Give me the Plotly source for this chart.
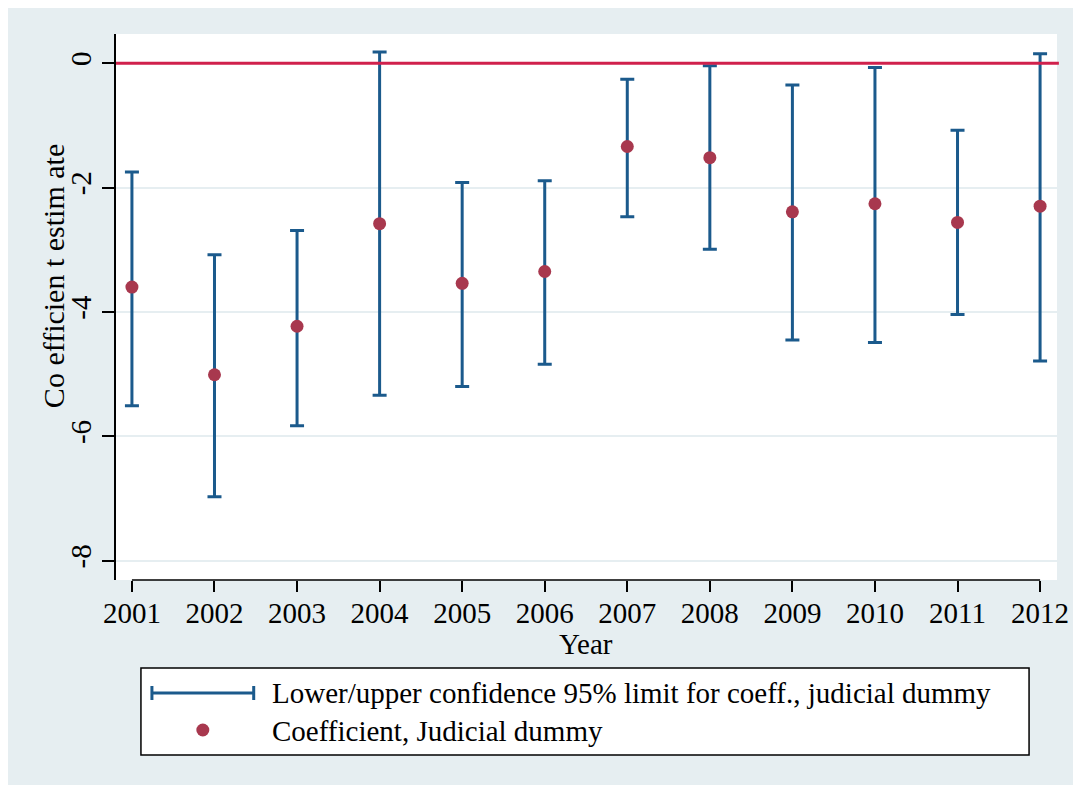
import plotly.graph_objects as go

years = [2001, 2002, 2003, 2004, 2005, 2006, 2007, 2008, 2009, 2010, 2011, 2012]
coef = [-3.60, -5.01, -4.23, -2.58, -3.54, -3.35, -1.34, -1.52, -2.39, -2.26, -2.56, -2.30]
upper = [-1.75, -3.08, -2.69, 0.18, -1.92, -1.89, -0.26, -0.04, -0.35, -0.07, -1.08, 0.15]
lower = [-5.51, -6.97, -5.83, -5.34, -5.20, -4.84, -2.47, -2.99, -4.45, -4.49, -4.04, -4.79]
yticks = [0, -2, -4, -6, -8]
ci_label = "Lower/upper confidence 95% limit for coeff., judicial dummy"
pt_label = "Coefficient, Judicial dummy"
x_title = "Year"
y_title = "Co efficien t estim ate"

NAVY = "#1B5A8C"
MAROON = "#A8384E"
RED = "#D0214C"
BG = "#E6EEF1"
GRID = "#E6EEF1"
FONT = "Liberation Serif"

OFF = 8  # page offset of the figure (body margin)
FW, FH = 1081 - OFF, 785 - OFF
# plot area in page pixels
PL, PT, PR, PB = 116, 34, 1059, 580
L, T, R, B = PL - OFF, PT - OFF, PR - OFF, PB - OFF
W, H = R - L, B - T


def px(x):
    return (x - PL) / W


def py(y):
    return (PB - y) / H


fig = go.Figure()

fig.add_trace(go.Scatter(
    x=years, y=coef, mode="markers",
    marker=dict(size=1, color="rgba(0,0,0,0)"),
    error_y=dict(type="data", symmetric=False,
                 array=[u - c for u, c in zip(upper, coef)],
                 arrayminus=[c - l for c, l in zip(coef, lower)],
                 color=NAVY, thickness=3, width=7),
    showlegend=False, hoverinfo="skip", name=ci_label))

fig.add_trace(go.Scatter(
    x=years, y=coef, mode="markers",
    marker=dict(size=13, color=MAROON),
    showlegend=False, name=pt_label))

shapes = []
shapes.append(dict(type="line", xref="paper", yref="y", x0=0, x1=1.002, y0=0, y1=0,
                   line=dict(color=RED, width=3), layer="above"))
shapes.append(dict(type="line", xref="x", yref="paper", x0=years[0], x1=years[-1], y0=0, y1=0,
                   line=dict(color="black", width=1.5), layer="above"))
# legend box
shapes.append(dict(type="rect", xref="paper", yref="paper", x0=px(141), x1=px(1031), y0=py(755), y1=py(668),
                   fillcolor="white", line=dict(color="black", width=1.5), layer="above"))
# legend CI symbol
shapes.append(dict(type="line", xref="paper", yref="paper", x0=px(152), x1=px(254), y0=py(693), y1=py(693),
                   line=dict(color=NAVY, width=3), layer="above"))
for xx in (152, 254):
    shapes.append(dict(type="line", xref="paper", yref="paper", x0=px(xx), x1=px(xx), y0=py(686), y1=py(700),
                       line=dict(color=NAVY, width=3), layer="above"))
# legend dot
shapes.append(dict(type="circle", xref="paper", yref="paper", x0=px(196.5), x1=px(209.5), y0=py(736.5), y1=py(723.5),
                   fillcolor=MAROON, line=dict(width=0), layer="above"))

annotations = [
    dict(text=ci_label, xref="paper", yref="paper", x=px(270), y=py(693), xanchor="left", yanchor="middle",
         showarrow=False, font=dict(family=FONT, size=29, color="black")),
    dict(text=pt_label, xref="paper", yref="paper", x=px(270), y=py(731), xanchor="left", yanchor="middle",
         showarrow=False, font=dict(family=FONT, size=29, color="black")),
    dict(text=x_title, xref="paper", yref="paper", x=px(587), y=py(644), xanchor="center", yanchor="middle",
         showarrow=False, font=dict(family=FONT, size=29, color="black")),
    dict(text=y_title, xref="paper", yref="paper", x=px(53), y=py(276), xanchor="center", yanchor="middle",
         textangle=-90, showarrow=False, font=dict(family=FONT, size=30, color="black")),
]

fig.update_layout(
    width=FW, height=FH,
    margin=dict(l=L, r=FW - R, t=T, b=FH - B, pad=0),
    paper_bgcolor=BG, plot_bgcolor="white",
    shapes=shapes, annotations=annotations,
    showlegend=False,
    font=dict(family=FONT, size=29, color="black"),
)

fig.update_xaxes(
    range=[2000.807, 2012.205], tickmode="array", tickvals=years, ticktext=[str(y) for y in years],
    showgrid=False, zeroline=False, showline=False,
    ticks="outside", ticklen=11, tickwidth=1.5, tickcolor="black",
    ticklabelstandoff=-4,
    tickfont=dict(family=FONT, size=29, color="black"),
)
fig.update_yaxes(
    range=[-8.31, 0.469], tickmode="array", tickvals=yticks, ticktext=[str(v) for v in yticks],
    showgrid=True, gridcolor=GRID, gridwidth=2, zeroline=False,
    showline=True, linecolor="black", linewidth=1.5,
    ticks="outside", ticklen=12, tickwidth=1.5, tickcolor="black", tickangle=-90,
    tickfont=dict(family=FONT, size=29, color="black"),
)

fig.write_html("out.html")
